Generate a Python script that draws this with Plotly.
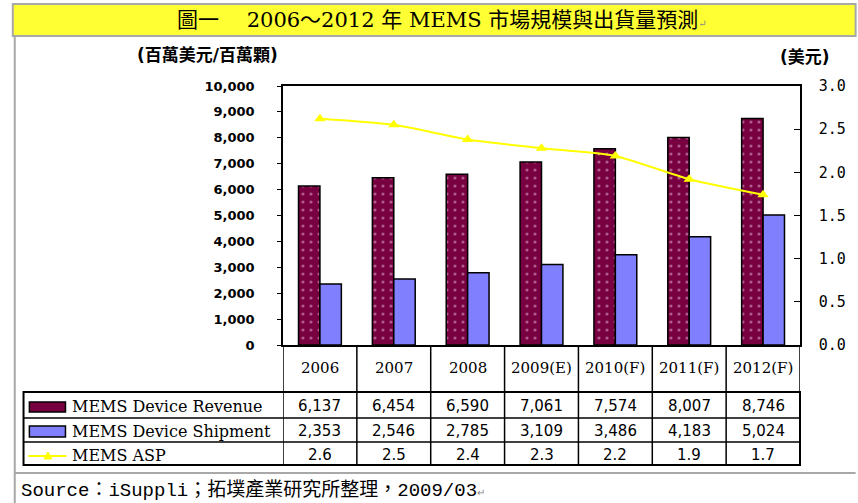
import plotly.graph_objects as go

# ---------------- data ----------------
years = ["2006", "2007", "2008", "2009(E)", "2010(F)", "2011(F)", "2012(F)"]
revenue = [6137, 6454, 6590, 7061, 7574, 8007, 8746]
shipment = [2353, 2546, 2785, 3109, 3486, 4183, 5024]
asp = [2.62, 2.55, 2.38, 2.28, 2.19, 1.92, 1.74]
asp_labels = ["2.6", "2.5", "2.4", "2.3", "2.2", "1.9", "1.7"]
series_names = ["MEMS Device Revenue", "MEMS Device Shipment", "MEMS ASP"]
left_ticks = [0, 1000, 2000, 3000, 4000, 5000, 6000, 7000, 8000, 9000, 10000]
right_ticks = [0.0, 0.5, 1.0, 1.5, 2.0, 2.5, 3.0]

title_text = "圖一　 2006～2012 年 MEMS 市場規模與出貨量預測"
left_unit = "(百萬美元/百萬顆)"
right_unit = "(美元)"
source_text = "Source：iSuppli；拓墣產業研究所整理，2009/03"

# ---------------- geometry (pixels) ----------------
FW, FH = 858, 503
L, R, T, B = 283, 813, 86, 345
W, H = R - L, B - T


def fx(p):
    return (p - L) / W


def fy(p):
    return (B - p) / H


REV = "#780040"
SHIP = "#8080ff"
ASPC = "#ffff00"
SERIF = "DejaVu Serif, Noto Sans CJK TC"
SANS = "DejaVu Sans, Noto Sans CJK TC"
MONO = "Liberation Mono, Noto Sans CJK TC"

fig = go.Figure()
fig.add_trace(go.Bar(
    x=years, y=revenue, name=series_names[0],
    marker=dict(color=REV, line=dict(color="black", width=1.5),
                pattern=dict(shape=".", bgcolor=REV, fgcolor="#e8b8d8",
                             size=8, solidity=0.12)),
))
fig.add_trace(go.Bar(
    x=years, y=shipment, name=series_names[1],
    marker=dict(color=SHIP, line=dict(color="black", width=1.5)),
))
fig.add_trace(go.Scatter(
    x=years, y=asp, name=series_names[2], yaxis="y2", mode="lines+markers",
    line=dict(color=ASPC, width=2, shape="spline", smoothing=0.6),
    marker=dict(symbol="triangle-up", size=10, color=ASPC),
))

shapes = []
# title bar and page frame
shapes.append(dict(type="rect", xref="paper", yref="paper",
                   x0=fx(6), x1=fx(870), y0=fy(4), y1=fy(36),
                   fillcolor="#ffff33", line=dict(color="#a8a8a8", width=2), layer="below"))
shapes.append(dict(type="line", xref="paper", yref="paper",
                   x0=fx(8), x1=fx(8), y0=fy(36), y1=fy(510),
                   line=dict(color="#a8a8a8", width=2)))
shapes.append(dict(type="line", xref="paper", yref="paper",
                   x0=fx(8), x1=fx(870), y0=fy(473), y1=fy(473),
                   line=dict(color="#a8a8a8", width=2)))

# data table
row_lines = [392, 418, 442, 465]
for i in range(len(years) + 1):
    shapes.append(dict(type="line", xref="x", yref="paper",
                       x0=i - 0.5, x1=i - 0.5, y0=fy(B), y1=fy(row_lines[-1]),
                       line=dict(color="black", width=1.5)))
shapes.append(dict(type="rect", xref="paper", yref="paper",
                   x0=fx(17), x1=fx(R), y0=fy(row_lines[0]), y1=fy(row_lines[-1]),
                   line=dict(color="black", width=2)))
for yl in row_lines[1:-1]:
    shapes.append(dict(type="line", xref="paper", yref="paper",
                       x0=fx(17), x1=fx(R), y0=fy(yl), y1=fy(yl),
                       line=dict(color="black", width=1.5)))

# legend keys in table
shapes.append(dict(type="rect", xref="paper", yref="paper",
                   x0=fx(23), x1=fx(60), y0=fy(402), y1=fy(412),
                   fillcolor=REV, line=dict(color="black", width=1.5)))
shapes.append(dict(type="rect", xref="paper", yref="paper",
                   x0=fx(23), x1=fx(60), y0=fy(426), y1=fy(437),
                   fillcolor=SHIP, line=dict(color="black", width=1.5)))
shapes.append(dict(type="line", xref="paper", yref="paper",
                   x0=fx(22), x1=fx(61), y0=fy(456), y1=fy(456),
                   line=dict(color=ASPC, width=2)))
tx, ty = 42, 456
shapes.append(dict(type="path", xref="paper", yref="paper",
                   path=f"M {fx(tx-4)} {fy(ty+3)} L {fx(tx+4)} {fy(ty+3)} L {fx(tx)} {fy(ty-4)} Z",
                   fillcolor=ASPC, line=dict(color=ASPC, width=1)))

ann = []
ann.append(dict(xref="paper", yref="paper", x=fx(446), y=fy(20),
                text=title_text + "<span style='font-size:10px;color:#888'>↵</span>",
                showarrow=False, xanchor="center", yanchor="middle",
                font=dict(family=SERIF, size=21, color="black")))
ann.append(dict(xref="paper", yref="paper", x=fx(206), y=fy(55), text=left_unit,
                showarrow=False, xanchor="center", yanchor="middle",
                font=dict(family=SANS, size=17, color="black", weight="bold")))
ann.append(dict(xref="paper", yref="paper", x=fx(818), y=fy(57), text=right_unit,
                showarrow=False, xanchor="center", yanchor="middle",
                font=dict(family=SANS, size=17, color="black", weight="bold")))

row_centers = [406, 431, 455]
for i, yr in enumerate(years):
    ann.append(dict(xref="x", yref="paper", x=i, y=fy(368), text=yr, showarrow=False,
                    xanchor="center", yanchor="middle",
                    font=dict(family=SERIF, size=15, color="black")))
    vals = [f"{revenue[i]:,}", f"{shipment[i]:,}", asp_labels[i]]
    for v, rc in zip(vals, row_centers):
        ann.append(dict(xref="x", yref="paper", x=i, y=fy(rc), text=v, showarrow=False,
                        xanchor="center", yanchor="middle",
                        font=dict(family=SANS, size=15, color="black")))
for name, rc in zip(series_names, row_centers):
    ann.append(dict(xref="paper", yref="paper", x=fx(65), y=fy(rc), text=name,
                    showarrow=False, xanchor="left", yanchor="middle",
                    font=dict(family=SERIF, size=16, color="black")))
ann.append(dict(xref="paper", yref="paper", x=fx(12), y=fy(490),
                text=source_text + "<span style='font-size:10px;color:#888'>↵</span>",
                showarrow=False, xanchor="left", yanchor="middle",
                font=dict(family=MONO, size=19, color="black")))

fig.update_layout(
    width=FW, height=FH,
    margin=dict(l=L, r=FW - R, t=T, b=FH - B, pad=0),
    paper_bgcolor="white", plot_bgcolor="white",
    barmode="group", bargap=0.42, bargroupgap=0.0,
    showlegend=False,
    xaxis=dict(type="category", range=[-0.5, len(years) - 0.5], showticklabels=False,
               showgrid=False, zeroline=False, showline=True, mirror=True,
               linecolor="black", linewidth=1.5, ticks=""),
    yaxis=dict(range=[0, 10000], tickvals=left_ticks, tickformat=",",
               showgrid=False, zeroline=False, showline=True, linecolor="black",
               linewidth=1.5, ticks="outside", ticklen=4, tickcolor="black",
               ticklabelstandoff=20,
               tickfont=dict(family="DejaVu Sans", size=13, color="black", weight="bold")),
    yaxis2=dict(range=[0, 3.0], tickvals=right_ticks, tickformat=".1f",
                overlaying="y", side="right", showgrid=False, zeroline=False,
                showline=True, linecolor="black", linewidth=1.5,
                ticks="inside", ticklen=6, tickcolor="black", ticklabelstandoff=14,
                tickfont=dict(family="DejaVu Sans Mono", size=15, color="black")),
    shapes=shapes,
    annotations=ann,
)

fig.write_html("out.html", config={"displayModeBar": False},
               post_script="document.body.style.margin='0';")
